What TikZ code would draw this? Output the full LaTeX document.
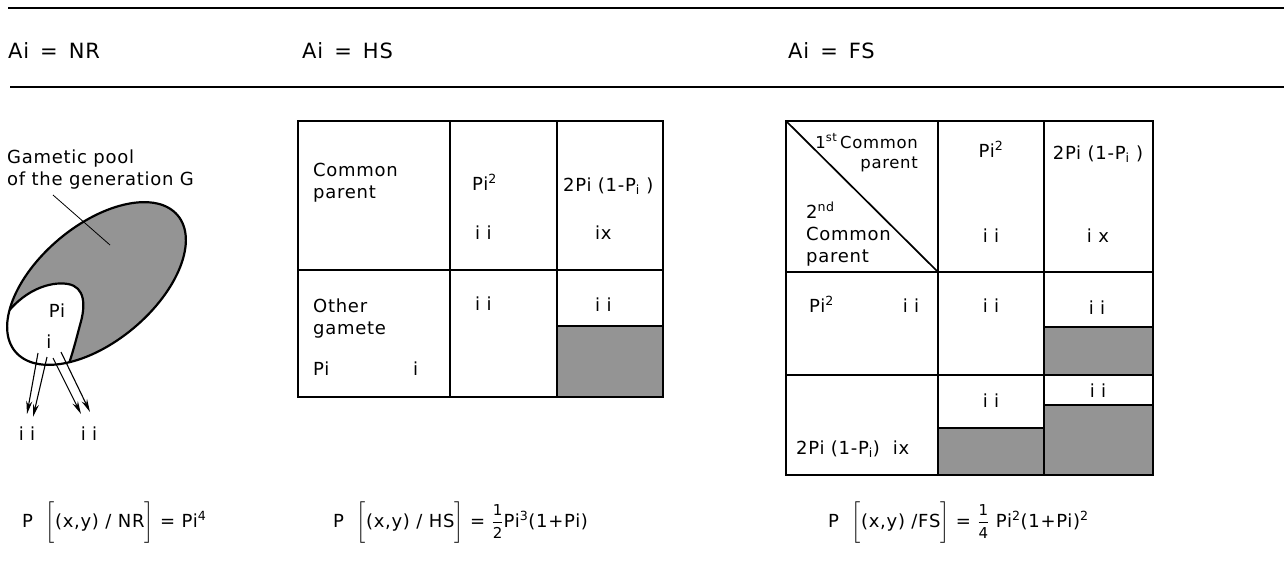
\documentclass[tikz,border=0pt]{standalone}
\usepackage{amsmath}
\usepackage{fontspec}
\setmainfont{DejaVu Sans}[LetterSpace=4]
\usetikzlibrary{arrows.meta,positioning}
\newcommand{\bodyfont}{\fontsize{18}{22}\selectfont}
\newcommand{\headfont}{\fontsize{21}{24}\selectfont}
\newcommand{\fracdigit}[1]{\text{\fontsize{15}{15}\selectfont #1}}

\begin{document}
\begin{tikzpicture}[x=1pt,y=-1pt,font=\bodyfont,
  txt/.style={inner sep=0pt,anchor=base west},
  mid/.style={inner sep=0pt,anchor=base},
  hdr/.style={inner sep=0pt,anchor=base west,font=\headfont},
  hrule/.style={line width=1.4pt},
  tblline/.style={line width=1.7pt},
  tblframe/.style={line width=2.6pt},
  shade/.style={fill=black!42},
  gam/.style={-{Stealth[length=13pt,width=6pt]},line width=1.1pt}]
  \useasboundingbox (0,0) rectangle (1284,562);

  % headings
  \draw[hrule] (8,8) -- (1284,8);
  \draw[hrule] (10,87) -- (1284,87);
  \node[hdr] (nrHead) at (8,58) {Ai\, =\, NR};
  \node[hdr] (hsHead) at (302,58) {Ai\, =\, HS};
  \node[hdr] (fsHead) at (788,58) {Ai\, =\, FS};

  % NR : gametic pool
  \fill[shade,rotate around={40:(96.5,283.5)}] (96.5,283.5) ellipse [x radius=106pt,y radius=58pt];
  \begin{scope}
    \clip[rotate around={40:(96.5,283.5)}] (96.5,283.5) ellipse [x radius=106pt,y radius=58pt];
    \fill[white] (2,320) .. controls (22,290) and (50,281) .. (68,284)
      .. controls (85,287) and (86,305) .. (80,325)
      .. controls (76,340) and (72,356) .. (66,372) -- (40,420) -- (-20,340) -- cycle;
    \draw[line width=2.2pt] (2,320) .. controls (22,290) and (50,281) .. (68,284)
      .. controls (85,287) and (86,305) .. (80,325)
      .. controls (76,340) and (72,356) .. (66,372);
  \end{scope}
  \draw[line width=2.2pt,rotate around={40:(96.5,283.5)}] (96.5,283.5) ellipse [x radius=106pt,y radius=58pt];
  \node[txt,align=left] (poolLabel) at (7,185) {Gametic pool\\of the generation G};
  \coordinate (poolTip) at (110,245);
  \coordinate (poolFoot) at (53,195);
  \draw[line width=0.8pt] (poolFoot) -- (poolTip);
  \node[mid] (piLabel) at (57,317) {Pi};
  \node[mid] (iLabel) at (49,348) {i};
  \coordinate (g1) at (38,353); \coordinate (h1) at (27,414);
  \coordinate (g2) at (47,357); \coordinate (h2) at (33,417);
  \coordinate (g3) at (53,358); \coordinate (h3) at (81,414);
  \coordinate (g4) at (61,352); \coordinate (h4) at (90,412);
  \foreach \k in {1,2,3,4}{\draw[gam] (g\k) -- (h\k);}
  \node[mid] (iiLeft) at (27,440) {i i};
  \node[mid] (iiRight) at (89,440) {i i};
  \node[txt] (nrFormula) at (22,527) {P\ \ $\biggl[$(x,y) / NR$\biggr]$ = Pi\textsuperscript{4}};

  % HS table
  \filldraw[shade,tblline] (557,326) rectangle (663,397);
  \foreach \x in {450,557}{\draw[tblline] (\x,121) -- (\x,397);}
  \draw[tblline] (298,270) -- (663,270);
  \draw[tblframe] (298,121) rectangle (663,397);
  \node[txt,align=left] (hsCommon) at (313,198) {Common\\parent};
  \node[txt] (hsPsq) at (472,190) {Pi\textsuperscript{2}};
  \node[txt] (hsPq) at (563,191) {2Pi (1-P\textsubscript{i} )};
  \node[txt] (hsIIa) at (475,239) {i i};
  \node[txt] (hsIX) at (595,239) {ix};
  \node[txt,align=left] (hsOther) at (313,334) {Other\\gamete};
  \node[txt] (hsPi) at (313,375) {Pi};
  \node[txt] (hsI) at (413,375) {i};
  \node[txt] (hsIIb) at (475,310) {i i};
  \node[txt] (hsIIc) at (595,311) {i i};
  \node[txt] (hsFormula) at (333,527) {P\ \ $\biggl[$(x,y) / HS$\biggr]$ = $\dfrac{\fracdigit{1}}{\fracdigit{2}}$Pi\textsuperscript{3}(1+Pi)};

  % FS table
  \filldraw[shade,tblline] (1044,327) rectangle (1153,375);
  \filldraw[shade,tblline] (938,428) rectangle (1044,475);
  \filldraw[shade,tblline] (1044,405) rectangle (1153,475);
  \foreach \x in {938,1044}{\draw[tblline] (\x,121) -- (\x,475);}
  \foreach \y in {272,375}{\draw[tblline] (786,\y) -- (1153,\y);}
  \draw[tblline] (786,121) -- (938,272);
  \draw[tblframe] (786,121) rectangle (1153,475);
  \node[inner sep=0pt,anchor=base east,align=right,font=\fontsize{16.5}{20}\selectfont] (fsFirst) at (918,168) {1\textsuperscript{st}\,Common\\parent};
  \node[txt,align=left] (fsSecond) at (806,262) {2\textsuperscript{nd}\\Common\\parent};
  \node[mid] (fsPsq) at (991,157) {Pi\textsuperscript{2}};
  \node[mid] (fsPq) at (1098,159) {2Pi (1-P\textsubscript{i} )};
  \node[mid] (fsIIa) at (991,242) {i i};
  \node[mid] (fsIX) at (1098,242) {i x};
  \node[txt] (fsRowPsq) at (809,312) {Pi\textsuperscript{2}};
  \node[mid] (fsRowII) at (911,312) {i i};
  \node[mid] (fsIIb) at (991,312) {i i};
  \node[mid] (fsIIc) at (1097,314) {i i};
  \node[txt] (fsRowPq) at (796,454) {2Pi (1-P\textsubscript{i})\ \ ix};
  \node[mid] (fsIId) at (991,407) {i i};
  \node[mid] (fsIIe) at (1098,397) {i i};
  \node[txt] (fsFormula) at (828,527) {P\ \ $\biggl[$(x,y) /FS$\biggr]$ = $\dfrac{\fracdigit{1}}{\fracdigit{4}}$ Pi\textsuperscript{2}(1+Pi)\textsuperscript{2}};
\end{tikzpicture}
\end{document}
